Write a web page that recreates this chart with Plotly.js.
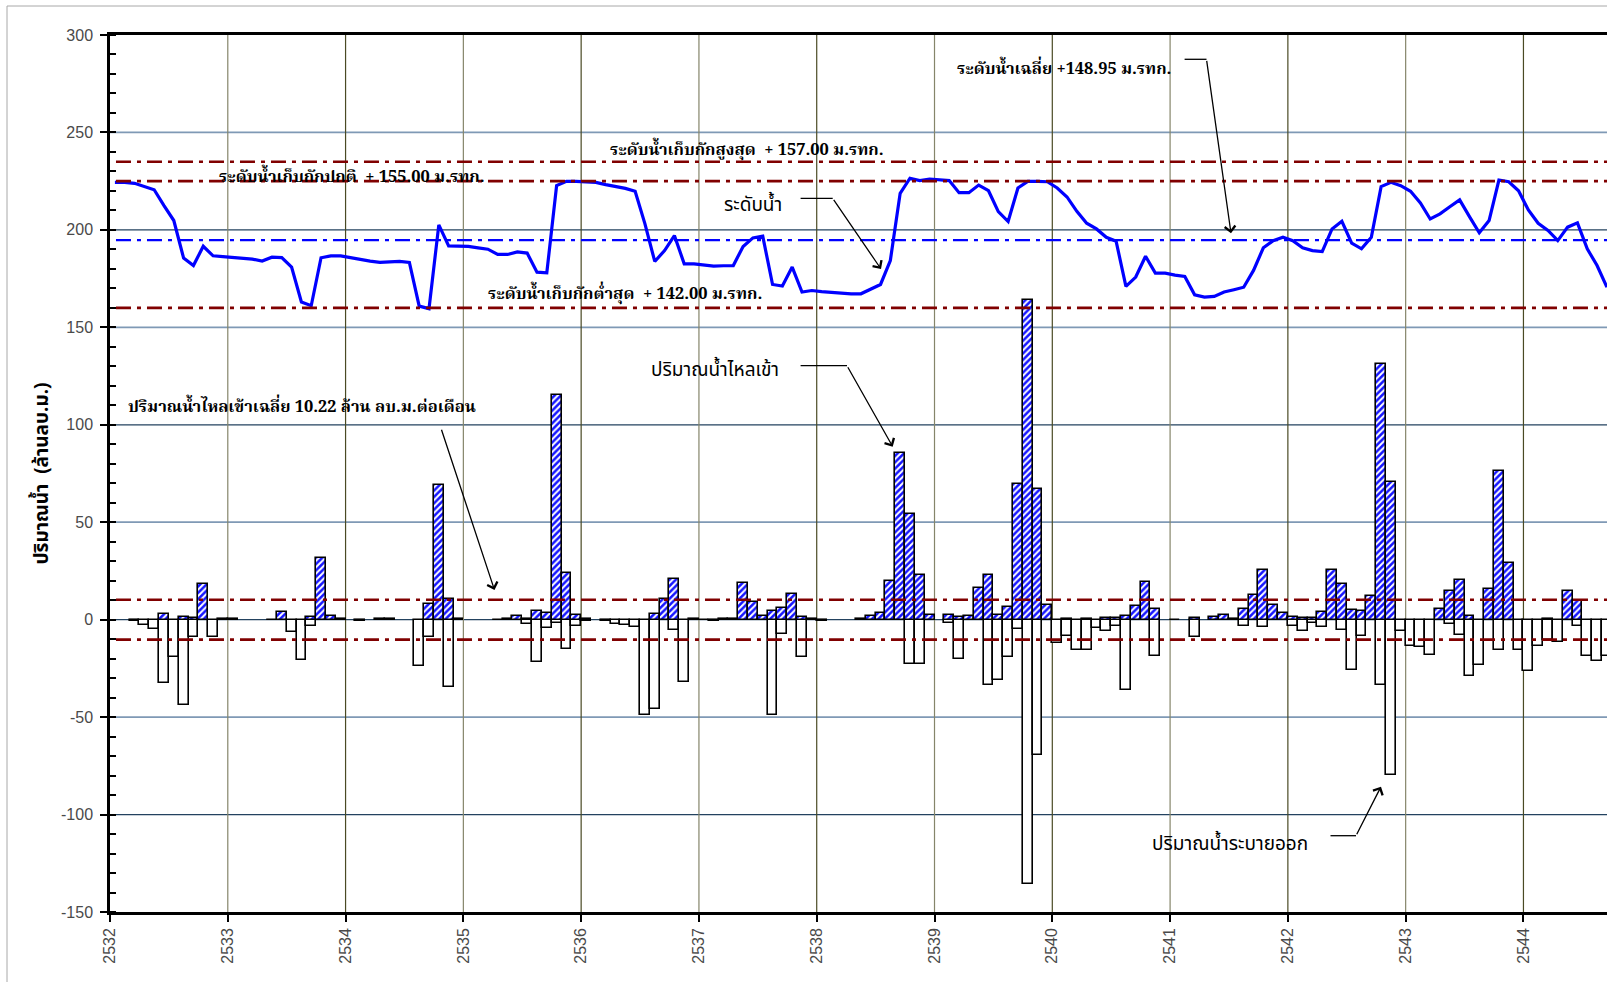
<!DOCTYPE html>
<html><head><meta charset="utf-8">
<script src="https://cdn.plot.ly/plotly-3.0.1.min.js"></script>
<style>html,body{margin:0;padding:0;background:#fff}</style>
</head><body><div id="chart" style="width:1607px;height:982px"></div>
<script>
// ---- data (monthly, starting Jan 2532 B.E.) ----
const startYear = 2532;
const yearTicks = [2532,2533,2534,2535,2536,2537,2538,2539,2540,2541,2542,2543,2544];
const yTicks = [-150,-100,-50,0,50,100,150,200,250,300];
// inflow, million m3 / month
const inflow = [
 0,0,0,0,0,3.1,0,1.4,1.0,18.4,0,0.3,
 0.5,0,0,0,0,3.8,0,0,1.4,31.9,1.7,0.2,
 0,0,0,0.2,0.3,0,0,0,7.8,69.1,10.6,0.2,
 0,0,0,0,0.5,1.7,0.3,4.4,3.4,115.4,24.2,2.6,
 0.2,0,0,0,0,0,0,2.9,10.6,21.0,0,0.2,
 0,0,0.3,0.5,19.0,9.0,1.9,4.6,5.8,13.4,1.4,0.5,
 0,0,0,0,0.3,2.1,3.4,19.9,85.3,54.1,22.7,2.6,
 0,2.2,1.4,1.9,16.0,22.7,2.2,6.6,69.5,163.8,67.1,7.3,
 0,0.3,0,0.5,0,0.9,0.9,1.7,7.2,19.4,5.3,0,
 0,0,0.9,0,1.5,2.2,0.5,5.6,12.5,25.3,7.3,3.4,
 1.4,0.7,0.7,3.9,25.3,18.4,5.1,4.6,11.9,131.0,70.5,0,
 0,0,0,5.3,14.9,20.3,1.7,0,15.8,76.4,29.0,0,
 0,0,0.5,0,14.8,9.7,0,0,0];
// release (outflow), shown as negative
const outflow = [
 0,0,-0.8,-2.6,-4.8,-32.4,-19.2,-44.0,-9.0,0,-9.0,0,
 0,0,0,0,-0.3,0,-6.1,-20.6,-3.1,0,0,0,
 0,-0.5,0,-0.3,0,0,0,-23.9,-9.0,0,-34.5,0,
 0,0,0,-0.4,0,0,-2.0,-21.8,-4.3,-1.7,-14.8,-3.1,
 -0.5,0,-0.5,-2.0,-2.7,-3.8,-48.8,-45.7,0,-5.5,-32.1,0,
 -0.3,-0.5,0,0,0,0,0,-48.8,-7.2,0,-19.4,-0.3,
 -0.8,0,0,0,0,0,0,0,0,-22.6,-22.6,0,
 0,-1.7,-20.1,0,0,-33.3,-31.2,-19.4,-4.6,-135.7,-69.5,0,
 -11.9,-8.5,-15.4,-15.4,-4.3,-6.0,-3.1,-36.3,0,0,-18.8,0,
 -0.3,0,-9.0,0,0,0,-0.3,-3.1,0,-3.9,0,0,
 -3.1,-6.0,-1.7,-3.8,0,-5.5,-25.6,-8.5,0,-33.4,-79.8,-5.6,
 -13.3,-14.0,-18.3,0,-2.2,-7.7,-29.0,-23.5,0,-15.7,0,-15.7,
 -26.1,-13.3,-10.2,-11.4,0,-3.1,-18.8,-21.0,-18.8];
// reservoir water level, m (MSL)
const waterLevel = [
 154.88,154.88,154.78,154.44,154.12,152.50,150.96,147.10,146.34,148.32,147.34,147.26,
 147.20,147.10,147.00,146.80,147.20,147.16,146.18,142.60,142.22,147.14,147.34,147.34,
 147.14,146.92,146.80,146.66,146.72,146.76,146.66,142.18,141.92,150.52,148.36,148.32,
 148.30,148.16,148.02,147.48,147.48,147.74,147.62,145.66,145.60,154.54,154.98,154.98,
 154.94,154.88,154.64,154.44,154.26,153.96,150.62,146.76,147.88,149.42,146.52,146.52,
 146.38,146.28,146.32,146.34,148.30,149.18,149.36,144.40,144.24,146.18,143.62,143.78,
 143.66,143.58,143.52,143.44,143.44,143.92,144.40,146.86,153.76,155.30,155.06,155.22,
 155.16,155.06,153.82,153.82,154.60,154.02,151.88,150.86,154.30,154.98,154.98,154.94,
 154.30,153.38,151.90,150.68,150.10,149.24,148.84,144.20,145.16,147.30,145.56,145.56,
 145.36,145.22,143.34,143.10,143.18,143.62,143.86,144.12,145.84,148.16,148.90,149.24,
 148.90,148.16,147.88,147.78,150.10,150.88,148.64,148.06,149.24,154.44,154.88,154.54,
 153.96,152.76,151.12,151.64,152.38,153.08,151.36,149.70,150.96,155.12,154.94,154.02,
 152.04,150.68,149.94,148.90,150.28,150.72,148.06,146.34,144.12];
const levelMax = 157.00, levelNormal = 155.00, levelMin = 142.00, levelMean = 148.95;
const inflowMean = 10.22;

// month centres on a decimal-year axis
const months = inflow.map((_, i) => startYear + (i + 0.5) / 12);
const noZero = a => a.map(v => v === 0 ? null : v);

// ---- geometry helpers (pixel -> paper) ----
const W = 1607, H = 982, ML = 110, MR = 0, MT = 35, MB = 70;
const PW = W - ML - MR, PH = H - MT - MB;
const px = x => (x - ML) / PW;
const py = y => (H - MB - y) / PH;

const serif = "'Noto Serif Thai','Liberation Serif','DejaVu Serif',serif";
const sans = "'Noto Sans Thai','Noto Sans','Liberation Sans',sans-serif";

const traces = [
 {type:'bar', x: months, y: noZero(outflow), width: 1/12, name:'ปริมาณน้ำระบายออก',
  marker:{color:'#ffffff', line:{color:'#000', width:1.6}}},
 {type:'bar', x: months, y: noZero(inflow), width: 1/12, name:'ปริมาณน้ำไหลเข้า',
  marker:{color:'#1414ff', pattern:{shape:'/', fgcolor:'#ffffff', bgcolor:'#1414ff', fillmode:'replace', size:4.5, solidity:0.45},
          line:{color:'#000', width:1.6}}},
 {type:'scatter', mode:'lines', x: months, y: waterLevel, yaxis:'y2', name:'ระดับน้ำ',
  line:{color:'#0000ff', width:3.2}}
];

const shapes = [];
// outer frame
shapes.push({type:'rect', xref:'paper', yref:'paper', x0:px(7), x1:px(1640), y0:py(1010), y1:py(6),
  line:{color:'#a8a8a8', width:1}, fillcolor:'rgba(0,0,0,0)', layer:'below'});
// horizontal grid lines
[250,200,150,100,50,0,-50,-100].forEach((v,i)=>{
  shapes.push({type:'line', xref:'paper', yref:'y', x0:0, x1:1, y0:v, y1:v, layer:'below',
    line:{color: i%2===0 ? '#7f99b5' : '#23425f', width: i%2===0 ? 1.8 : 1.2}});
});
// vertical grid lines
yearTicks.slice(1).forEach((v,i)=>{
  shapes.push({type:'line', xref:'x', yref:'paper', x0:v, x1:v, y0:0, y1:1, layer:'below',
    line:{color: i%2===0 ? '#85856a' : '#4a4a24', width:1.2}});
});
// reference lines
const dd = '15px,6px,4px,6px';
[levelMax, levelNormal, levelMin].forEach(v=>{
  shapes.push({type:'line', xref:'paper', yref:'y2', x0:0.004, x1:1, y0:v, y1:v, layer:'above',
    line:{color:'#800000', width:2.6, dash:dd}});
});
shapes.push({type:'line', xref:'paper', yref:'y2', x0:0.004, x1:1, y0:levelMean, y1:levelMean, layer:'above',
  line:{color:'#0000ff', width:2.4, dash:dd}});
[inflowMean, -inflowMean].forEach(v=>{
  shapes.push({type:'line', xref:'paper', yref:'y', x0:0.004, x1:1, y0:v, y1:v, layer:'above',
    line:{color:'#800000', width:2.6, dash:dd}});
});
// leader lines (horizontal parts)
[[800.6,832.7,198.3],[800.6,847,365.7],[1184.6,1206.5,59.3],[1330.5,1356,835.7]].forEach(s=>{
  shapes.push({type:'line', xref:'paper', yref:'paper', x0:px(s[0]), x1:px(s[1]), y0:py(s[2]), y1:py(s[2]),
    layer:'above', line:{color:'#000', width:1.3}});
});

const txt = (x,y,text,font,size,bold)=>({xref:'paper', yref:'paper', x:px(x), y:py(y),
  xanchor:'center', yanchor:'middle', showarrow:false, text: bold ? '<b>'+text+'</b>' : text,
  font:{family:font, size:size, color:'#000'}});
const arr = (tx,ty,sx,sy)=>({xref:'paper', yref:'paper', x:px(tx), y:py(ty), ax:sx-tx, ay:sy-ty,
  text:'', showarrow:true, arrowhead:4, arrowsize:1.6, arrowwidth:1.3, arrowcolor:'#000', standoff:0, startstandoff:0});

const annotations = [
  txt(352,177,'ระดับน้ำเก็บกักปกติ  + 155.00 ม.รทก.', serif, 16.5, true),
  txt(747,150,'ระดับน้ำเก็บกักสูงสุด  + 157.00 ม.รทก.', serif, 16.5, true),
  txt(625,294,'ระดับน้ำเก็บกักต่ำสุด  + 142.00 ม.รทก.', serif, 16.5, true),
  txt(1064,70,'ระดับน้ำเฉลี่ย +148.95 ม.รทก.', serif, 16.5, true),
  txt(302,407,'ปริมาณน้ำไหลเข้าเฉลี่ย 10.22 ล้าน ลบ.ม.ต่อเดือน', serif, 16.5, true),
  txt(753,205,'ระดับน้ำ', sans, 19, false),
  txt(715,371,'ปริมาณน้ำไหลเข้า', sans, 19, false),
  txt(1230,844,'ปริมาณน้ำระบายออก', sans, 19, false),
  arr(881,269,832.7,198.3),
  arr(892.7,446.7,847,365.7),
  arr(1231,233.3,1206.5,59.3),
  arr(494.5,590,441,428.3),
  arr(1381,786.7,1356,835.7)
];

const layout = {
  width: W, height: H,
  margin:{l:ML, r:MR, t:MT, b:MB, pad:0},
  paper_bgcolor:'#ffffff', plot_bgcolor:'#ffffff',
  showlegend:false, barmode:'relative', bargap:0,
  font:{family:"'Liberation Sans',Arial,sans-serif", color:'#444'},
  xaxis:{range:[startYear, startYear + 152.5/12 + 0.001], tickmode:'array', tickvals:yearTicks,
    ticktext: yearTicks.map(String), tickangle:-90, ticks:'outside', ticklen:7, tickwidth:2, tickcolor:'#000',
    showline:true, linecolor:'#000', linewidth:2.5, mirror:true, showgrid:false, zeroline:false,
    tickfont:{size:16, color:'#4a4a4a'}},
  yaxis:{range:[-150,300], tickmode:'array', tickvals:yTicks, ticktext: yTicks.map(String),
    ticks:'outside', ticklen:7, tickwidth:2, tickcolor:'#000', ticklabelstandoff:4,
    minor:{dtick:10, tick0:0, ticks:'inside', ticklen:6, tickwidth:1.5, tickcolor:'#000', showgrid:false},
    showline:true, linecolor:'#000', linewidth:2.5, showgrid:false, zeroline:false,
    tickfont:{size:16, color:'#4a4a4a'},
    title:{text:'<b>ปริมาณน้ำ  (ล้านลบ.ม.)</b>', font:{family:sans, size:19, color:'#000'}, standoff:8}},
  yaxis2:{range:[80,170], overlaying:'y', visible:false, showgrid:false, zeroline:false},
  shapes: shapes,
  annotations: annotations
};

Plotly.newPlot('chart', traces, layout, {displayModeBar:false});
</script></body></html>
